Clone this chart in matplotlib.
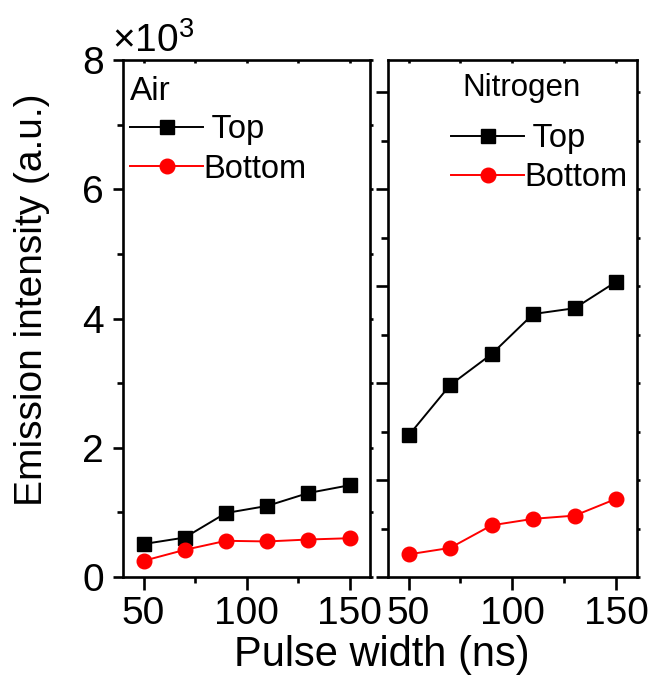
import numpy as np
import matplotlib
matplotlib.use('Agg')
import matplotlib.pyplot as plt
from matplotlib.ticker import MultipleLocator, NullFormatter

plt.rcParams['font.family'] = ['Liberation Sans', 'DejaVu Sans']
plt.rcParams['mathtext.default'] = 'regular'

# pulse widths (ns)
pulse = [50, 70, 90, 110, 130, 150]

# emission intensity, in units of 1e3
air_top = [0.51, 0.61, 0.99, 1.10, 1.30, 1.42]
air_bottom = [0.25, 0.42, 0.56, 0.55, 0.58, 0.60]
n2_top = [2.19, 2.97, 3.45, 4.07, 4.16, 4.57]
n2_bottom = [0.35, 0.45, 0.80, 0.90, 0.95, 1.21]

panels = ['Air', 'Nitrogen']
labels = [' Top', 'Bottom']

fig = plt.figure(figsize=(6.54, 6.91), dpi=100)
ax1 = fig.add_axes([0.188, 0.165, 0.378, 0.748])
ax2 = fig.add_axes([0.593, 0.165, 0.381, 0.748])

for ax, top, bot in [(ax1, air_top, air_bottom), (ax2, n2_top, n2_bottom)]:
    ax.plot(pulse, top, '-s', color='black', lw=1.4, ms=9.5, label=labels[0])
    ax.plot(pulse, bot, '-o', color='red', lw=1.4, ms=10.5, label=labels[1])
    ax.set_xlim(40, 160)
    ax.set_ylim(0, 8)
    ax.xaxis.set_major_locator(MultipleLocator(50))
    ax.xaxis.set_minor_locator(MultipleLocator(25))
    for s in ax.spines.values():
        s.set_linewidth(1.9)
    ax.tick_params(axis='x', which='major', direction='out', length=9, width=1.9,
                   labelsize=28, pad=5, top=True)
    ax.tick_params(axis='x', which='minor', direction='out', length=4, width=1.9, top=True)

# left panel y axis
ax1.yaxis.set_major_locator(MultipleLocator(2))
ax1.yaxis.set_minor_locator(MultipleLocator(1))
ax1.tick_params(axis='y', which='major', direction='out', length=7.5, width=1.9,
                labelsize=28, pad=6, right=True)
ax1.tick_params(axis='y', which='minor', direction='out', length=4, width=1.9, right=True)

# right panel y axis (own ticks, no labels)
ax2.yaxis.set_major_locator(MultipleLocator(1.5))
ax2.yaxis.set_minor_locator(MultipleLocator(0.75))
ax2.yaxis.set_major_formatter(NullFormatter())
ax2.tick_params(axis='y', which='major', direction='out', length=8.5, width=1.9, right=True)
ax2.tick_params(axis='y', which='minor', direction='out', length=5, width=1.9, right=True)

# tiny mirrored ticks on top/right
for ax in (ax1, ax2):
    ax.tick_params(which='both', top=True, right=True)
    for t in ax.xaxis.get_major_ticks() + ax.xaxis.get_minor_ticks():
        t.tick2line.set_markersize(2.5)
        t.tick2line.set_marker(3)
    for t in ax.yaxis.get_major_ticks() + ax.yaxis.get_minor_ticks():
        t.tick2line.set_markersize(2)

ax1.text(0.028, 0.923, panels[0], transform=ax1.transAxes, fontsize=24, va='baseline')
ax2.text(0.30, 0.93, panels[1], transform=ax2.transAxes, fontsize=22.5, va='baseline')
ax1.text(-0.045, 1.015, '×10$^3$', transform=ax1.transAxes, fontsize=28, va='baseline')

for ax, anchor in [(ax1, (0.028, 0.895)), (ax2, (0.253, 0.878))]:
    ax.legend(loc='upper left', bbox_to_anchor=anchor, frameon=False, borderpad=0,
              borderaxespad=0, handlelength=2.25, handletextpad=0, labelspacing=0.25,
              fontsize=23.5, markerscale=1.0)

fig.text(32 / 654, 1 - 300 / 691, 'Emission intensity (a.u.)', rotation=90,
         fontsize=28, ha='center', va='center')
fig.text(382 / 654, 1 - 655 / 691, 'Pulse width (ns)', fontsize=30, ha='center', va='center')

fig.savefig('out.png', dpi=100)
